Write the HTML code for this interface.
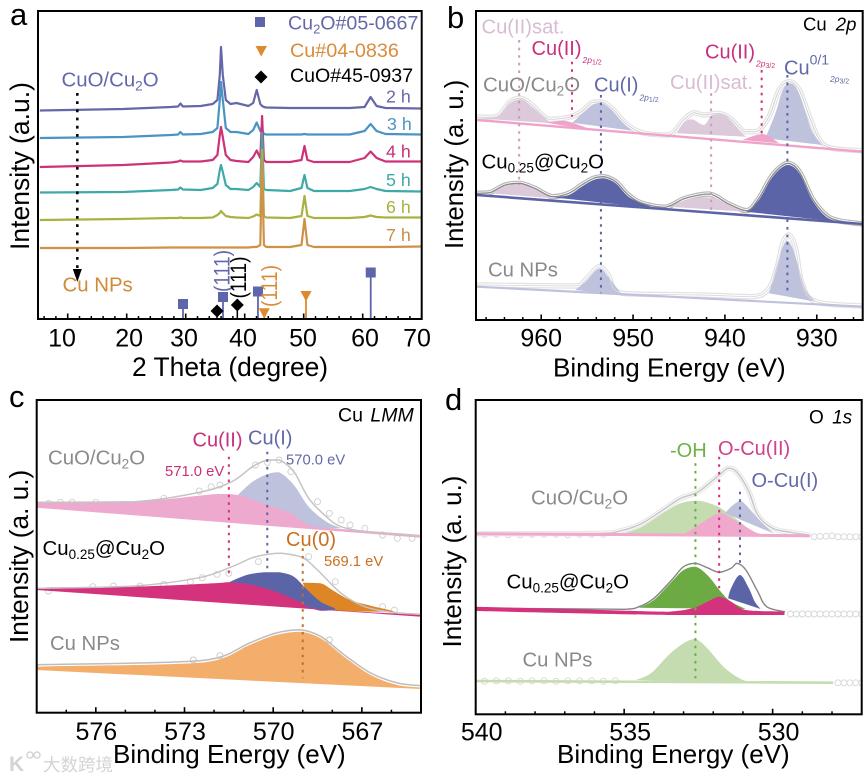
<!DOCTYPE html>
<html lang="en">
<head>
<meta charset="utf-8">
<title>XRD and XPS characterisation panels</title>
<style>
html,body{margin:0;padding:0;background:#fff;width:868px;height:779px;overflow:hidden}
svg{display:block;font-family:"Liberation Sans","Noto Sans CJK SC",sans-serif;filter:blur(0.3px)}
</style>
</head>
<body>
<svg id="fig" width="868" height="779" viewBox="0 0 868 779" xmlns="http://www.w3.org/2000/svg">
<defs>
<clipPath id="clipA"><rect x="38" y="11" width="383.7" height="308"/></clipPath>
<clipPath id="clipB"><rect x="476" y="11" width="386.7" height="309"/></clipPath>
<clipPath id="clipC"><rect x="36.7" y="400" width="384.3" height="312.7"/></clipPath>
<clipPath id="clipD"><rect x="475.7" y="400" width="386" height="314.3"/></clipPath>
</defs>
<g id="panelA"></g>
<g id="panelB"></g>
<g id="panelC"></g>
<g id="panelD"></g>

<g font-size="31" fill="#000">
<text x="10" y="25">a</text>
<text x="447" y="28">b</text>
<text x="9" y="407">c</text>
<text x="445" y="410">d</text>
</g>

<g fill="#000">
<text x="132" y="376" font-size="26.4">2 Theta (degree)</text>
<text x="553" y="376.5" font-size="26">Binding Energy (eV)</text>
<text x="113" y="763" font-size="26">Binding Energy (eV)</text>
<text x="557" y="763" font-size="26">Binding Energy (eV)</text>
<text transform="translate(29,250) rotate(-90)" font-size="26.5">Intensity (a.u.)</text>
<text transform="translate(463,249) rotate(-90)" font-size="25.6">Intensity (a. u.)</text>
<text transform="translate(28,643) rotate(-90)" font-size="26.2">Intensity (a. u.)</text>
<text transform="translate(461,647.5) rotate(-90)" font-size="26">Intensity (a. u.)</text>
</g>

<g>
<rect x="255" y="17" width="10" height="10" fill="#5f65aa"/>
<polygon points="255.5,46 267,46 261.2,56.5" fill="#dd8a2e"/>
<polygon points="261,70.5 267.5,77 261,83.5 254.5,77" fill="#000"/>
<text x="288" y="29.5" font-size="19.6" fill="#6468a8">Cu<tspan dy="4" font-size="13">2</tspan><tspan dy="-4">O#05-0667</tspan></text>
<text x="290" y="57" font-size="19.8" fill="#d88c3c">Cu#04-0836</text>
<text x="290" y="82" font-size="19.6" fill="#000">CuO#45-0937</text>
<text x="61.5" y="86.5" font-size="20.4" fill="#6468a8">CuO/Cu<tspan dy="4" font-size="13.5">2</tspan><tspan dy="-4">O</tspan></text>
<text x="62.5" y="291.5" font-size="20.4" fill="#d08a38">Cu NPs</text>
<text x="386" y="102.5" font-size="17.8" fill="#6468a8">2 h</text>
<text x="387" y="130" font-size="17.8" fill="#4a94c4">3 h</text>
<text x="386" y="157.5" font-size="17.8" fill="#c83078">4 h</text>
<text x="386" y="186" font-size="17.8" fill="#3fa9a8">5 h</text>
<text x="386" y="213" font-size="17.8" fill="#a9b240">6 h</text>
<text x="386" y="241" font-size="17.8" fill="#c89048">7 h</text>
<text transform="translate(229.5,292) rotate(-90)" font-size="22" textLength="42" lengthAdjust="spacingAndGlyphs" fill="#6468a8">(111)</text>
<text transform="translate(246,298.5) rotate(-90)" font-size="22" textLength="42" lengthAdjust="spacingAndGlyphs" fill="#000">(111)</text>
<text transform="translate(277,307) rotate(-90)" font-size="22" textLength="42" lengthAdjust="spacingAndGlyphs" fill="#d88c3c">(111)</text>
</g>

<g>
<text x="803" y="30.5" font-size="18.5" fill="#000">Cu <tspan font-style="italic" dx="4">2p</tspan></text>
<text x="481.5" y="33.5" font-size="20.2" fill="#d8bcd4">Cu(II)sat.</text>
<text x="531.5" y="55" font-size="20" fill="#c8307c">Cu(II)<tspan dx="1" dy="8" font-size="8.5" font-style="italic">2p</tspan><tspan dy="1.5" font-size="7">1/2</tspan></text>
<text x="705" y="58.5" font-size="20" fill="#c8307c">Cu(II)<tspan dx="1" dy="8" font-size="8.5" font-style="italic">2p</tspan><tspan dy="1.5" font-size="7">3/2</tspan></text>
<text x="483" y="91.5" font-size="20.4" fill="#8a8a8a">CuO/Cu<tspan dy="4" font-size="13.5">2</tspan><tspan dy="-4">O</tspan></text>
<text x="594" y="91.5" font-size="20" fill="#6068a8">Cu(I)<tspan dx="1" dy="9" font-size="8.5" font-style="italic">2p</tspan><tspan dy="1.5" font-size="7">1/2</tspan></text>
<text x="670" y="89" font-size="20.2" fill="#d8bcd4">Cu(II)sat.</text>
<text x="784" y="74.5" font-size="20" fill="#6068a8">Cu<tspan dy="-10" font-size="14">0/1</tspan></text>
<text x="830" y="82" font-size="8.5" fill="#6068a8" font-style="italic">2p<tspan dy="1.5" font-size="7" font-style="normal">3/2</tspan></text>
<text x="481.5" y="168.5" font-size="20.4" fill="#000">Cu<tspan dy="4" font-size="13.5">0.25</tspan><tspan dy="-4">@Cu</tspan><tspan dy="4" font-size="13.5">2</tspan><tspan dy="-4">O</tspan></text>
<text x="488" y="276.5" font-size="20.3" fill="#8a8a8a">Cu NPs</text>
</g>

<g>
<text x="338" y="421.5" font-size="19.5" fill="#000">Cu <tspan font-style="italic" dx="2">LMM</tspan></text>
<text x="192.5" y="446.5" font-size="20" fill="#c8307c">Cu(II)</text>
<text x="248" y="444.5" font-size="20" fill="#6068a8">Cu(I)</text>
<text x="48" y="464.5" font-size="20.4" fill="#8a8a8a">CuO/Cu<tspan dy="4" font-size="13.5">2</tspan><tspan dy="-4">O</tspan></text>
<text x="165" y="476" font-size="14.8" fill="#c83078">571.0 eV</text>
<text x="286" y="464.5" font-size="14.8" fill="#6468a8">570.0 eV</text>
<text x="42.5" y="555" font-size="20.4" fill="#000">Cu<tspan dy="4" font-size="13.5">0.25</tspan><tspan dy="-4">@Cu</tspan><tspan dy="4" font-size="13.5">2</tspan><tspan dy="-4">O</tspan></text>
<text x="286" y="546" font-size="20" fill="#c87020">Cu(0)</text>
<text x="324" y="566" font-size="14.8" fill="#c87020">569.1 eV</text>
<text x="50" y="650" font-size="20.3" fill="#8a8a8a">Cu NPs</text>
</g>

<g>
<text x="809" y="423.5" font-size="19" fill="#000">O <tspan font-style="italic" dx="3">1s</tspan></text>
<text x="670" y="457" font-size="20" fill="#70b048">-OH</text>
<text x="718" y="455" font-size="20" fill="#d0408c">O-Cu(II)</text>
<text x="751.5" y="487" font-size="20" fill="#6468a8">O-Cu(I)</text>
<text x="531" y="504.5" font-size="20.4" fill="#8a8a8a">CuO/Cu<tspan dy="4" font-size="13.5">2</tspan><tspan dy="-4">O</tspan></text>
<text x="506.5" y="588.5" font-size="20.4" fill="#000">Cu<tspan dy="4" font-size="13.5">0.25</tspan><tspan dy="-4">@Cu</tspan><tspan dy="4" font-size="13.5">2</tspan><tspan dy="-4">O</tspan></text>
<text x="522.5" y="666.5" font-size="20.3" fill="#8a8a8a">Cu NPs</text>
</g>

<g fill="#d4d4d4">
<text x="9" y="771" font-size="21" font-weight="bold">K</text>
<circle cx="30" cy="755" r="3" fill="none" stroke="#d4d4d4" stroke-width="1.5"/>
<circle cx="37" cy="755" r="3" fill="none" stroke="#d4d4d4" stroke-width="1.5"/>
<text x="43" y="771" font-size="17.5" font-family="'Liberation Sans','Noto Sans CJK SC',sans-serif">大数跨境</text>
</g>
</svg>

<script>
/* ---------- Panel a: XRD ---------- */
const xrdTheta = [5.27,19.41,27.49,28.71,29.11,29.52,32.55,34.57,35.38,35.78,35.98,36.29,36.79,37.6,38.61,40.63,41.44,42.04,42.65,42.95,43.26,43.66,47.7,49.62,50.13,50.63,51.74,57.8,60.33,61.34,62.35,63.87,69.93];
const xrd2h = [208.5,210,212,212.5,215.5,212.5,213,215,219,244,272,244,219,215,216,213,216,229,215,213,212,211.5,211,211,211,211,211,211,212,222,213,211,210.5];
const xrd3h = [181,182,184,184.5,187,184.5,185,187,191,219,237,219,191,187,187,185,189,196.5,188,189,185,184.5,184.5,184.5,185,184.5,184.5,184.5,188,195,188,185,184.5];
const xrd4h = [152,154,156.5,157.5,158.5,157.5,157.5,159,164,184,192,182,164,159,158,157,162,168.5,161,203,159,157,157,159,173,159,157,157,161,167.5,161,157.5,157.5];
const xrd5h = [126.5,127,129,129.5,131.5,129.5,129,131,135,149,154,147,134,130,130,129,132,136,132,186,130,129,128,131,144,131,128,128,130,132,130,128,127.5];
const xrd6h = [99,100,101,101,101.5,101,101,101.5,104,106,108,106,103,102,101.5,101,102.5,104.5,103,169,103,101.5,101,103,123,103,101,101,102,103.5,102,101.5,101.5];
const xrd7h = [71,71,71.5,71.5,71.5,71.5,71.5,71.5,71.5,71.5,71.5,71.5,71.5,71.5,71.5,71.5,72,72,74,159,74,72,72,74,100,74,72,72,72,72,72,72,72.5];
const cu2oRefTheta = [29.54,36.32,42.25,61.36];
const cu2oRefHeight = [15,22,27.5,46.5];
const cuRefTheta = [43.32,50.39];
const cuRefHeight = [5.7,23];
const cuoRefTheta = [35.31,38.75];
const cuoRefHeight = [8,14];
const aMajorTicks = [10,20,30,40,50,60,70];
const aMinorTicks = [6,8,12,14,16,18,22,24,26,28,32,34,36,38,42,44,46,48,52,54,56,58,62,64,66,68];
const aTickLabels = ["10","20","30","40","50","60","70"];
const arrowTheta = [11.63];
const arrowFrom = [226];
const arrowTo = [47];

/* ---------- Panel b: Cu 2p ---------- */
const bMajorTicks = [960,950,940,930];
const bMinorTicks = [966,964,962,958,956,954,952,948,946,944,942,938,936,934,932,928,926];
const bTickLabels = ["960","950","940","930"];
const bBgBE = [967,925];
const bTopBg = [200,168.3];
const bMidBg = [125,96];
const bLowBg = [33.3,13.3];
const bTopEnvBE = [967,964.8,963.4,962.2,961,959.2,957,955.6,954.5,953.5,952.3,950.8,949,946.1,944.5,943.4,942.3,940.7,939.4,937.9,936.5,935.2,934.1,933,931.9,930.8,929.7,928.3,925];
const bTopEnv = [202.7,203.3,218.3,221.7,215,200.7,202.7,208.3,217.3,218.3,211.7,196.7,187.3,185,200,207.3,205,206.7,201.7,188.3,188.3,203.3,230,238.3,230,203.3,180,171.7,169.3];
const bTopSat1BE = [967,964.8,963.4,962.2,961,959.6,958.8];
const bTopSat1 = [201.7,202.7,216.7,220.7,213.3,201.7,196.7];
const bTopCu2aBE = [959.4,957.7,956.6,955.2,954.3];
const bTopCu2a = [197.3,199.3,197.3,192.7,189.3];
const bTopCu1BE = [956.6,955.5,954.4,953.5,952.5,951.2,950.1];
const bTopCu1 = [197.3,206.7,215,217.3,211.7,198.3,189.3];
const bTopSat2BE = [945.2,944.5,943.6,942.3,941.4,940.3,939.4,938.3,937.7];
const bTopSat2 = [186.7,196.7,200.7,195,205,206,200,188.3,183.3];
const bTopCu2bBE = [938.1,935.9,934.1];
const bTopCu2b = [180,186,176.7];
const bTopCu01BE = [935.6,934.5,933.7,932.9,932.1,931.2,930.5,929.4];
const bTopCu01 = [181.7,206.7,230,236.7,230,206.7,188.3,175];
const bMidEnvBE = [967,965.6,963.9,962.3,960.7,958.8,957,955.6,954.3,953.2,951.9,950.5,949,946.5,944.3,941.7,939.6,937.6,936.3,934.8,933.2,931.9,930.5,929,927.6,925];
const bMidEnv = [126.7,127.3,135,136.7,131.7,123.3,126.7,135,141.7,143.3,138.3,125,116.7,112.7,121.7,126,116,109.3,121.7,145,156.7,148.3,121.7,105,99.3,96];
const bMidSat1BE = [965.6,963.9,962.3,960.7,958.8];
const bMidSat1 = [126.7,134,136,131.7,121.7];
const bMidCu1BE = [958.8,957,955.6,954.3,953.2,951.9,950.5,949,947.6];
const bMidCu1 = [122.7,125,133.3,140,141.7,136.7,123.3,116.7,111.7];
const bMidSat2BE = [946.1,944.3,942.5,941,939.6,937.7];
const bMidSat2 = [113.3,120,122.7,121.7,115,108.3];
const bMidCu0BE = [937.7,936.3,934.8,933.2,931.9,930.5,929,927.6];
const bMidCu0 = [108.3,120,143.3,155,146.7,120,103.3,98.3];
const bLowEnvBE = [967,956.3,955.2,953.7,952.7,951.2,942.5,937,935.2,934.3,933.7,933,932.3,931.6,930.1,925];
const bLowEnv = [35,34,40,53.3,45,26.7,25,23.3,31.7,53.3,76.7,85,71.7,36.7,18.3,14];
const bLowPk1BE = [956.3,955.2,953.7,952.7,951.2];
const bLowPk1 = [30,38.3,51.7,43.3,25];
const bLowPk2BE = [935.2,934.3,933.7,933.2,932.7,932.1,931.2,930.1];
const bLowPk2 = [26.7,56.7,73.3,79.3,73.3,56.7,30,18.3];
const bGuideBE = [962.4,956.65,953.5,941.5,936,933.2];
const bGuideTop = [280,258.3,225,226.7,250,245];
const bGuideBottom = [135,203.3,26.7,110,183.3,26.7];

/* ---------- Panel c: Cu LMM ---------- */
const cMajorTicks = [576,573,570,567];
const cMinorTicks = [577,575,574,572,571,569,568,566];
const cTickLabels = ["576","573","570","567"];
const cTopEnvBE = [578,574.7,572.5,571.4,570.7,570.2,569.8,569.3,568.8,568.2,567.7,566.8,565];
const cTopEnv = [210.4,211,220.4,231,246,252.7,252.7,241,214.4,196,186,181,177];
const cTopCu1BE = [571.2,570.7,570.2,569.8,569.3,568.8,568.2,567.7,568.8,569.4,570.2];
const cTopCu1 = [217.7,231,238.4,240.4,227.7,206,191,184.4,186,198,205];
const cTopCu2BE = [578,578,574.7,571.9,571.2,570.2,569.4,568.8,568,565,565];
const cTopCu2 = [205,210.4,211,218.7,217.7,207.7,199.4,187.7,184.4,177.7,175];
const cTopDotBE = [577.6,577.2,576.8,576,573.7,572.5,572.1,571.8,570.6,570.2,569.8,569.4,568.5,568.1,567.7,567.4,566.9,566.3,565.8,565.3];
const cTopDot = [209.4,210.4,210.4,210.4,214.4,221.7,226,227.7,247.7,250.4,252.7,241,211,199.4,192.7,187.7,184.4,177.7,174.4,174.4];
const cMidEnvBE = [578,574.7,572.5,571.4,570.7,570.1,569.7,569,568.5,567.7,566.9,566,565];
const cMidEnv = [124.4,126.7,135,146,155,158.7,159.4,155,142.7,119.4,106,100.4,98.4];
const cMidCu2BE = [578,578,574.7,572,571.5,570.7,569.9,569.1,568.4,565,565];
const cMidCu2 = [122.7,125,126,129.4,130.4,127.7,121,111,103.7,97.7,96];
const cMidCu1BE = [571.5,570.9,570.3,569.8,569.3,568.9,568.4,567.9,568.4,569.9];
const cMidCu1 = [130.4,137.7,140.4,140.4,136,124.4,111,103.7,102,115];
const cMidCu0BE = [569,568.4,568,567.4,566.7,565.9,567.9,568.4,568.9];
const cMidCu0 = [130,129.4,122.7,112.7,107,101,102,108,122];
const cMidDotBE = [577.6,576.1,575.4,574.5,573.7,572.8,572.4,571.9,571.5,570.5,568.8,567.9,566.3,565.9];
const cMidDot = [121.7,126,126.7,126.7,128.4,131,135,138.4,139.4,151,156,131,106,102.7];
const cLowEnvBE = [578,573.6,571.9,570.8,569.9,569.1,568.4,567.6,566.7,565.8,565];
const cLowEnv = [48,50.4,54.7,69.7,79.7,83,76.4,58,39.7,29.7,27];
const cLowCu0BE = [578,578,573.6,571.9,570.8,569.9,569.1,568.4,567.6,566.7,565.8,565,565];
const cLowCu0 = [42.7,46,48.4,52.7,67.7,77.7,81,74.4,56,37.7,27.7,25,23.7];
const cLowDotBE = [572.7,571.8,570.9,568.1];
const cLowDot = [52.7,57,62.7,72.7];
const cGuideBE = [571.5,570.2,569];
const cGuideTop = [256,261,164.4];
const cGuideBottom = [137.7,142.7,34.4];

/* ---------- Panel d: O 1s ---------- */
const dMajorTicks = [540,535,530];
const dMinorTicks = [539,538,537,536,534,533,532,531,529,528];
const dTickLabels = ["540","535","530"];
const dTopBgBE = [540,528.8];
const dTopBg = [180.6,178.6];
const dTopEnvBE = [540,536,535.1,534.4,533.7,533.1,532.5,531.8,531.5,531.2,530.8,530.5,530,529.4,528.8];
const dTopEnv = [180.6,180.8,183.6,191,204.3,216,222.6,239.3,246,242,222.6,199.3,186,182,179.3];
const dTopOhBE = [535.1,534.4,533.7,533.1,532.5,531.9,531.5,530.9,530.7];
const dTopOh = [180,187.6,201,211,213.6,208.6,201,187.6,179.3];
const dTopCu1BE = [531.6,531.4,531.1,530.9,530.5,530.1,529.9];
const dTopCu1 = [201,207.6,213.3,209.3,196,184.3,180];
const dTopCu2BE = [533,532.5,532,531.7,531.4,530.9,530.5,530.1];
const dTopCu2 = [180,189.3,198.6,201,196,187.6,181,179.3];
const dMidEnvBE = [540,536.9,535,534.5,534,533.4,533,532.6,532.2,531.8,531.4,531.2,530.9,530.5,530.2,529.6];
const dMidEnv = [106,105.5,105,107.6,116,134.3,147.6,151,146.6,142,146,151,144.3,122.6,107.6,102.6];
const dMidOhBE = [534.5,534,533.4,533,532.6,532.2,531.7,531.4,530.9];
const dMidOh = [106.6,114.3,132.6,144.3,147.6,139.3,121,112.6,105.3];
const dMidCu1BE = [531.5,531.4,531.1,530.8,530.6,530.4];
const dMidCu1 = [116,126,139.3,126,112.6,105.3];
const dMidCu2BE = [540,536.9,534.6,533.5,532.7,532.2,531.8,531.4,530.9,529.6,529.6,533.5,540];
const dMidCu2 = [107.6,105.3,103.3,102.6,106,112.6,117.6,112.6,104.3,102.6,99.3,99.3,103.3];
const dLowBgBE = [540,528];
const dLowBg = [33.3,31.6];
const dLowOhBE = [534.6,534.1,533.5,533,532.6,532.2,531.6,531,530.5];
const dLowOh = [34.3,41,59.3,71,75.3,66,46,34.3,31.6];
const dTopDotBE = [539.7,539.3,538.9,538.5,538.1,537.7,537.3,536.9,536.5,536.1,535.7,528.6,528.4,528.2,528,527.8,527.6,527.4,527.2,527];
const dTopDot = [180,180,179.5,179.5,180,180,180,179.5,180,180,180,177.5,178,178,178.5,177.5,177.5,177.5,177.5,177.5];
const dMidDotBE = [529.4,529.2,529,528.8,528.6,528.4,528.2,528,527.8,527.6,527.4,527.2,527];
const dMidDot = [100.3,100.3,100.3,100.3,100.3,100.3,100.3,100.3,100.3,100.3,100.3,100.3,100.3];
const dLowDotBE = [539.7,539.3,538.9,538.5,538.1,537.7,537.3,536.9,536.5,536.1,535.7,535.3,527.8,527.6,527.4,527.2,527];
const dLowDot = [33,33.5,33.5,33,33.5,33.5,33,33.5,33.5,33.5,33,33.5,31.5,31.5,31.5,31.5,31.5];
const dGuideBE = [532.6,531.8,531.1];
const dGuideTop = [251,257.6,222.6];
const dGuideBottom = [36,126,147.6];

/* ---------- Helpers ---------- */
const NS = 'http://www.w3.org/2000/svg';
function add(parent, tag, attrs, name) {
  const el = document.createElementNS(NS, tag);
  for (const k in attrs) el.setAttribute(k, attrs[k]);
  
  
  parent.appendChild(el);
  return el;
}
function scale(d0, d1, r0, r1) {
  return v => r0 + (v - d0) * (r1 - r0) / (d1 - d0);
}
function pts(xs, ys, sx, sy) {
  return xs.map((x, i) => [sx(x), sy(ys[i])]);
}
function polyD(p) {
  return p.map((q, i) => (i ? 'L' : 'M') + q[0].toFixed(1) + ' ' + q[1].toFixed(1)).join('');
}
function clampTo(v, a, b) {
  return Math.min(Math.max(a, b), Math.max(Math.min(a, b), v));
}
function smoothD(p) {
  let d = 'M' + p[0][0].toFixed(1) + ' ' + p[0][1].toFixed(1);
  for (let i = 0; i < p.length - 1; i++) {
    const a = p[Math.max(0, i - 1)], b = p[i], c = p[i + 1], e = p[Math.min(p.length - 1, i + 2)];
    const c1x = clampTo(b[0] + (c[0] - a[0]) / 6, b[0], c[0]), c1y = clampTo(b[1] + (c[1] - a[1]) / 6, b[1], c[1]);
    const c2x = clampTo(c[0] - (e[0] - b[0]) / 6, b[0], c[0]), c2y = clampTo(c[1] - (e[1] - b[1]) / 6, b[1], c[1]);
    d += 'C' + c1x.toFixed(1) + ' ' + c1y.toFixed(1) + ' ' + c2x.toFixed(1) + ' ' + c2y.toFixed(1) + ' ' + c[0].toFixed(1) + ' ' + c[1].toFixed(1);
  }
  return d;
}
function area(g, xs, ys, fill, name, sx, sy) {
  add(g, 'path', { d: smoothD(pts(xs, ys, sx, sy)) + 'Z', fill: fill, stroke: 'none' }, name);
}
function curve(g, xs, ys, stroke, width, name, sx, sy) {
  add(g, 'path', { d: smoothD(pts(xs, ys, sx, sy)), fill: 'none', stroke: stroke, 'stroke-width': width, 'stroke-linejoin': 'round', 'stroke-linecap': 'round' }, name);
}
function tube(g, xs, ys, outer, name, sx, sy) {
  curve(g, xs, ys, outer, 5.4, name + '-data-outer', sx, sy);
  curve(g, xs, ys, '#fff', 3, name + '-data-inner', sx, sy);
}
function dots(g, xs, ys, color, name, sx, sy) {
  xs.forEach((x, i) => {
    add(g, 'circle', { cx: sx(x), cy: sy(ys[i]), r: 3, fill: 'none', stroke: color, 'stroke-width': 0.9 }, name);
  });
}
function guides(g, xs, tops, bottoms, colors, prefix, sx, sy) {
  xs.forEach((x, i) => {
    add(g, 'line', { x1: sx(x), x2: sx(x), y1: sy(tops[i]), y2: sy(bottoms[i]), stroke: colors[i], 'stroke-width': 2, 'stroke-dasharray': '2.6 5' }, prefix + '-guide-' + i);
  });
}
function axes(g, frame, sx, majors, minors, labels, labelY, labelSize, labelShift, prefix) {
  minors.forEach(v => {
    add(g, 'line', { x1: sx(v), x2: sx(v), y1: frame.bottom, y2: frame.bottom - 3, stroke: '#000', 'stroke-width': 1.5 }, prefix + '-minor-tick');
  });
  majors.forEach((v, i) => {
    add(g, 'line', { x1: sx(v), x2: sx(v), y1: frame.bottom, y2: frame.bottom - 5.5, stroke: '#000', 'stroke-width': 1.6 }, prefix + '-major-tick');
    const shift = Array.isArray(labelShift) ? labelShift[i] : labelShift;
    const t = add(g, 'text', { x: sx(v) + shift, y: labelY, 'font-size': labelSize, 'text-anchor': 'middle', fill: '#000' }, prefix + '-tick-label');
    t.textContent = labels[i];
  });
  add(g, 'rect', { x: frame.left, y: frame.top, width: frame.right - frame.left, height: frame.bottom - frame.top, fill: 'none', stroke: '#000', 'stroke-width': 2 }, prefix + '-frame');
}
function clipped(parent, id, name) {
  return add(parent, 'g', { 'clip-path': 'url(#' + id + ')' }, name);
}

const NAVY = '#5c64a8', PALE = '#bfc2dc', MAUVE = '#dcc9d9', PINK = '#f0a3c9', MAGENTA = '#d4327c';

/* ---------- Draw panel a ---------- */
(function () {
  const root = document.getElementById('panelA');
  const f = { left: 38, right: 421.7, top: 11, bottom: 319 };
  const sx = scale(10, 70, 67.7, 421.7), sy = scale(0, 308, 319, 11);
  const g = clipped(root, 'clipA', 'xrd-plot-area');
  const series = [xrd2h, xrd3h, xrd4h, xrd5h, xrd6h, xrd7h];
  const colors = ['#6468a8', '#4a94c4', '#cf3178', '#3fa9a8', '#a9b240', '#cf9148'];
  const names = ['2h', '3h', '4h', '5h', '6h', '7h'];
  series.forEach((s, i) => {
    add(g, 'path', { d: polyD(pts(xrdTheta, s, sx, sy)), fill: 'none', stroke: colors[i], 'stroke-width': 2.2, 'stroke-linejoin': 'round' }, 'xrd-curve-' + names[i]);
  });
  arrowTheta.forEach((t, i) => {
    add(g, 'line', { x1: sx(t), x2: sx(t), y1: sy(arrowFrom[i]), y2: sy(arrowTo[i]), stroke: '#000', 'stroke-width': 2.5, 'stroke-dasharray': '2.8 5.4' }, 'transition-arrow-line');
    add(g, 'polygon', { points: (sx(t) - 4.5) + ',' + sy(arrowTo[i] + 3) + ' ' + (sx(t) + 4.5) + ',' + sy(arrowTo[i] + 3) + ' ' + sx(t) + ',' + sy(arrowTo[i] - 10) }, 'transition-arrow-head');
  });
  cu2oRefTheta.forEach((t, i) => {
    add(g, 'line', { x1: sx(t), x2: sx(t), y1: sy(0), y2: sy(cu2oRefHeight[i]), stroke: '#5f65aa', 'stroke-width': 1.8 }, 'cu2o-reference-stem');
    add(g, 'rect', { x: sx(t) - 5, y: sy(cu2oRefHeight[i]) - 5, width: 10, height: 10, fill: '#5f65aa' }, 'cu2o-reference-marker');
  });
  cuRefTheta.forEach((t, i) => {
    add(g, 'line', { x1: sx(t), x2: sx(t), y1: sy(0), y2: sy(cuRefHeight[i]), stroke: '#dd8a2e', 'stroke-width': 1.8 }, 'cu-reference-stem');
    const y = sy(cuRefHeight[i]);
    add(g, 'polygon', { points: (sx(t) - 5.5) + ',' + (y - 5) + ' ' + (sx(t) + 5.5) + ',' + (y - 5) + ' ' + sx(t) + ',' + (y + 5.5), fill: '#dd8a2e' }, 'cu-reference-marker');
  });
  cuoRefTheta.forEach((t, i) => {
    add(g, 'line', { x1: sx(t), x2: sx(t), y1: sy(0), y2: sy(cuoRefHeight[i]), stroke: '#000', 'stroke-width': 1.5 }, 'cuo-reference-stem');
    const y = sy(cuoRefHeight[i]), x = sx(t);
    add(g, 'polygon', { points: x + ',' + (y - 6.5) + ' ' + (x + 6.5) + ',' + y + ' ' + x + ',' + (y + 6.5) + ' ' + (x - 6.5) + ',' + y }, 'cuo-reference-marker');
  });
  axes(root, f, sx, aMajorTicks, aMinorTicks, aTickLabels, 346.5, 25, [-5.7,2.4,-1.7,-1.7,-0.7,2.3,-4.7], 'x-axis-a');
})();

/* ---------- Draw panel b ---------- */
(function () {
  const root = document.getElementById('panelB');
  const f = { left: 476, right: 862.7, top: 11, bottom: 320 };
  const sx = scale(967.1, 925, 476, 862.7), sy = scale(0, 309, 320, 11);
  const g = clipped(root, 'clipB', 'cu2p-plot-area');
  tube(g, bTopEnvBE, bTopEnv, '#e2e2e2', 'cuo-cu2o-cu2p', sx, sy);
  area(g, bTopSat1BE, bTopSat1, MAUVE, 'cuo-cu2o-satellite-1', sx, sy);
  area(g, bTopCu1BE, bTopCu1, PALE, 'cuo-cu2o-cu1-2p12', sx, sy);
  area(g, bTopCu2aBE, bTopCu2a, PINK, 'cuo-cu2o-cu2-2p12', sx, sy);
  area(g, bTopSat2BE, bTopSat2, MAUVE, 'cuo-cu2o-satellite-2', sx, sy);
  area(g, bTopCu01BE, bTopCu01, PALE, 'cuo-cu2o-cu01-2p32', sx, sy);
  area(g, bTopCu2bBE, bTopCu2b, PINK, 'cuo-cu2o-cu2-2p32', sx, sy);
  curve(g, bTopEnvBE, bTopEnv, '#d0d0d0', 1, 'cuo-cu2o-envelope', sx, sy);
  curve(g, bBgBE, bTopBg, PINK, 2.4, 'cuo-cu2o-background', sx, sy);

  tube(g, bMidEnvBE, bMidEnv, '#b8b8b8', 'cu025-cu2p', sx, sy);
  area(g, bMidSat1BE, bMidSat1, MAUVE, 'cu025-satellite-1', sx, sy);
  area(g, bMidSat2BE, bMidSat2, MAUVE, 'cu025-satellite-2', sx, sy);
  area(g, bMidCu1BE, bMidCu1, NAVY, 'cu025-cu1-2p12', sx, sy);
  area(g, bMidCu0BE, bMidCu0, NAVY, 'cu025-cu0-2p32', sx, sy);
  curve(g, bMidEnvBE, bMidEnv, '#8a8a8a', 1.3, 'cu025-envelope', sx, sy);
  curve(g, bBgBE, bMidBg, NAVY, 2.6, 'cu025-background', sx, sy);

  tube(g, bLowEnvBE, bLowEnv, '#e2e2e2', 'cu-nps-cu2p', sx, sy);
  area(g, bLowPk1BE, bLowPk1, PALE, 'cu-nps-peak-2p12', sx, sy);
  area(g, bLowPk2BE, bLowPk2, PALE, 'cu-nps-peak-2p32', sx, sy);
  curve(g, bLowEnvBE, bLowEnv, '#dadada', 0.9, 'cu-nps-envelope', sx, sy);
  curve(g, bBgBE, bLowBg, PALE, 2.2, 'cu-nps-background', sx, sy);

  guides(g, bGuideBE, bGuideTop, bGuideBottom, ['#c79cc0', MAGENTA, NAVY, '#c79cc0', MAGENTA, NAVY], 'cu2p', sx, sy);
  axes(root, f, sx, bMajorTicks, bMinorTicks, bTickLabels, 346.5, 25, 0, 'x-axis-b');
})();

/* ---------- Draw panel c ---------- */
(function () {
  const root = document.getElementById('panelC');
  const f = { left: 36.7, right: 421, top: 400, bottom: 712.7 };
  const sx = scale(578, 565, 36.7, 421), sy = scale(0, 312.7, 712.7, 400);
  const g = clipped(root, 'clipC', 'lmm-plot-area');
  dots(g, cTopDotBE, cTopDot, '#d0d0d0', 'cuo-cu2o-lmm-point', sx, sy);
  area(g, cTopCu1BE, cTopCu1, PALE, 'cuo-cu2o-lmm-cu1', sx, sy);
  area(g, cTopCu2BE, cTopCu2, '#eea9ce', 'cuo-cu2o-lmm-cu2', sx, sy);
  curve(g, cTopEnvBE, cTopEnv, '#c4c4c4', 1.5, 'cuo-cu2o-lmm-envelope', sx, sy);

  dots(g, cMidDotBE, cMidDot, '#d0d0d0', 'cu025-lmm-point', sx, sy);
  area(g, cMidCu0BE, cMidCu0, '#de8526', 'cu025-lmm-cu0', sx, sy);
  area(g, cMidCu1BE, cMidCu1, NAVY, 'cu025-lmm-cu1', sx, sy);
  area(g, cMidCu2BE, cMidCu2, MAGENTA, 'cu025-lmm-cu2', sx, sy);
  curve(g, cMidEnvBE, cMidEnv, '#c4c4c4', 1.5, 'cu025-lmm-envelope', sx, sy);

  dots(g, cLowDotBE, cLowDot, '#c8c8c8', 'cu-nps-lmm-point', sx, sy);
  area(g, cLowCu0BE, cLowCu0, '#f4ae6c', 'cu-nps-lmm-cu0', sx, sy);
  curve(g, cLowEnvBE, cLowEnv, '#bdbdbd', 1.5, 'cu-nps-lmm-envelope', sx, sy);

  guides(g, cGuideBE, cGuideTop, cGuideBottom, [MAGENTA, NAVY, '#c0702c'], 'lmm', sx, sy);
  axes(root, f, sx, cMajorTicks, cMinorTicks, cTickLabels, 740, 25, 0.5, 'x-axis-c');
})();

/* ---------- Draw panel d ---------- */
(function () {
  const root = document.getElementById('panelD');
  const f = { left: 475.7, right: 861.7, top: 400, bottom: 714.3 };
  const sx = scale(540, 527, 475.7, 861.7), sy = scale(0, 314.3, 714.3, 400);
  const g = clipped(root, 'clipD', 'o1s-plot-area');
  dots(g, dTopDotBE, dTopDot, '#d6d6d6', 'cuo-cu2o-o1s-point', sx, sy);
  tube(g, dTopEnvBE, dTopEnv, '#e8e8e8', 'cuo-cu2o-o1s', sx, sy);
  area(g, dTopOhBE, dTopOh, '#c5dcb0', 'cuo-cu2o-o1s-oh', sx, sy);
  area(g, dTopCu1BE, dTopCu1, PALE, 'cuo-cu2o-o1s-cu1', sx, sy);
  area(g, dTopCu2BE, dTopCu2, '#f0a8cc', 'cuo-cu2o-o1s-cu2', sx, sy);
  curve(g, dTopEnvBE, dTopEnv, '#c6c6c6', 1.5, 'cuo-cu2o-o1s-envelope', sx, sy);
  curve(g, dTopBgBE, dTopBg, '#f0a8cc', 3, 'cuo-cu2o-o1s-background', sx, sy);

  dots(g, dMidDotBE, dMidDot, '#d6d6d6', 'cu025-o1s-point', sx, sy);
  area(g, dMidOhBE, dMidOh, '#6cab44', 'cu025-o1s-oh', sx, sy);
  area(g, dMidCu1BE, dMidCu1, NAVY, 'cu025-o1s-cu1', sx, sy);
  curve(g, dMidEnvBE, dMidEnv, '#858585', 1.4, 'cu025-o1s-envelope', sx, sy);
  area(g, dMidCu2BE, dMidCu2, MAGENTA, 'cu025-o1s-cu2', sx, sy);

  dots(g, dLowDotBE, dLowDot, '#d6d6d6', 'cu-nps-o1s-point', sx, sy);
  area(g, dLowOhBE, dLowOh, '#c5dcb0', 'cu-nps-o1s-oh', sx, sy);
  curve(g, dLowBgBE, dLowBg, '#c5dcb0', 2.6, 'cu-nps-o1s-background', sx, sy);

  guides(g, dGuideBE, dGuideTop, dGuideBottom, ['#62b040', MAGENTA, NAVY], 'o1s', sx, sy);
  axes(root, f, sx, dMajorTicks, dMinorTicks, dTickLabels, 740.5, 25, 6, 'x-axis-d');
})();
</script>
</body>
</html>
